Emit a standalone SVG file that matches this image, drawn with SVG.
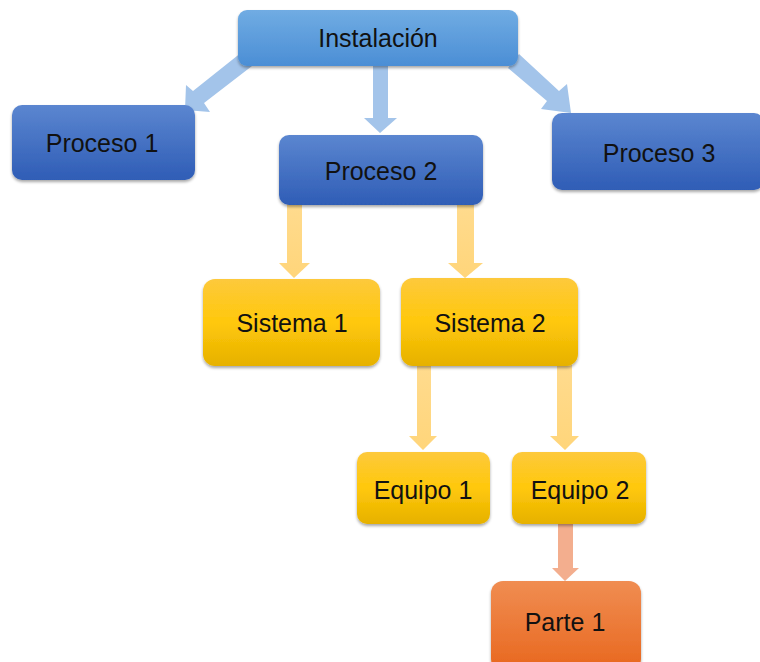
<svg xmlns="http://www.w3.org/2000/svg" width="760" height="662" viewBox="0 0 760 662">
  <defs>
    <linearGradient id="gTop" x1="0" y1="0" x2="0" y2="1">
      <stop offset="0" stop-color="#70ace3"/>
      <stop offset="1" stop-color="#4b8ed5"/>
    </linearGradient>
    <linearGradient id="gBlue" x1="0" y1="0" x2="0" y2="1">
      <stop offset="0" stop-color="#5b86d0"/>
      <stop offset="1" stop-color="#2f5db6"/>
    </linearGradient>
    <linearGradient id="gYellow" x1="0" y1="0" x2="0" y2="1">
      <stop offset="0" stop-color="#fdc93c"/>
      <stop offset="0.5" stop-color="#ffc80b"/>
      <stop offset="1" stop-color="#e6b100"/>
    </linearGradient>
    <linearGradient id="gOrange" x1="0" y1="0" x2="0" y2="1">
      <stop offset="0" stop-color="#f08d52"/>
      <stop offset="1" stop-color="#e8671e"/>
    </linearGradient>
    <linearGradient id="gArrowY" x1="0" y1="0" x2="0" y2="1">
      <stop offset="0" stop-color="#ffdb8e"/>
      <stop offset="1" stop-color="#ffd57a"/>
    </linearGradient>
    <filter id="shadow" x="-10%" y="-10%" width="120%" height="130%">
      <feGaussianBlur in="SourceAlpha" stdDeviation="1.5"/>
      <feOffset dx="0" dy="2" result="b"/>
      <feComponentTransfer><feFuncA type="linear" slope="0.35"/></feComponentTransfer>
      <feMerge><feMergeNode/><feMergeNode in="SourceGraphic"/></feMerge>
    </filter>
  </defs>
  <style>
    .lbl { font-family: "Liberation Sans", Arial, sans-serif; font-size: 25px; fill: #111; text-anchor: middle; dominant-baseline: central; }
    .box { filter: url(#shadow); }
    .arB { fill: #a3c4ea; }
    .arY { fill: url(#gArrowY); }
    .arO { fill: #f3ae8e; }
  </style>

  <rect width="760" height="662" fill="#ffffff"/>

  <!-- connectors: block arrows -->
  <g id="connectors">
    <!-- Instalación to Proceso 1 -->
    <polygon class="arB" points="242,52 252,66 204,103 210,112 185,110 186,85 193,91"/>
    <!-- Instalación to Proceso 2 -->
    <polygon class="arB" points="373,64 388,64 388,118 397,118 380,133 364,118 373,118"/>
    <!-- Instalación to Proceso 3 -->
    <polygon class="arB" points="519,54 508,68 547,101 541,109 571,113 567,84 559,91"/>
    <!-- Proceso 2 to Sistema 1 -->
    <polygon class="arY" points="287,204 302,204 302,263 310,263 294,278 279,263 287,263"/>
    <!-- Proceso 2 to Sistema 2 -->
    <polygon class="arY" points="457,204 474,204 474,263 483,263 465,278 448,263 457,263"/>
    <!-- Sistema 2 to Equipo 1 -->
    <polygon class="arY" points="417,365 431,365 431,436 437,436 423,450 409,436 417,436"/>
    <!-- Sistema 2 to Equipo 2 -->
    <polygon class="arY" points="557,365 572,365 572,436 579,436 565,450 550,436 557,436"/>
    <!-- Equipo 2 to Parte 1 -->
    <polygon class="arO" points="558,523 573,523 573,568 579,568 565,581 552,568 558,568"/>
  </g>

  <g id="instalacion">
    <rect class="box" x="238" y="10" width="280" height="56" rx="9" fill="url(#gTop)"/>
    <text class="lbl" x="378" y="38">Instalación</text>
  </g>
  <g id="proceso1">
    <rect class="box" x="12" y="105" width="183" height="75" rx="10" fill="url(#gBlue)"/>
    <text class="lbl" x="102" y="143">Proceso 1</text>
  </g>
  <g id="proceso2">
    <rect class="box" x="279" y="135" width="204" height="70" rx="10" fill="url(#gBlue)"/>
    <text class="lbl" x="381" y="171">Proceso 2</text>
  </g>
  <g id="proceso3">
    <rect class="box" x="552" y="113" width="212" height="77" rx="10" fill="url(#gBlue)"/>
    <text class="lbl" x="659" y="153">Proceso 3</text>
  </g>
  <g id="sistema1">
    <rect class="box" x="203" y="279" width="177" height="87" rx="12" fill="url(#gYellow)"/>
    <text class="lbl" x="292" y="323">Sistema 1</text>
  </g>
  <g id="sistema2">
    <rect class="box" x="401" y="278" width="177" height="88" rx="12" fill="url(#gYellow)"/>
    <text class="lbl" x="490" y="323">Sistema 2</text>
  </g>
  <g id="equipo1">
    <rect class="box" x="357" y="452" width="133" height="72" rx="10" fill="url(#gYellow)"/>
    <text class="lbl" x="423" y="490">Equipo 1</text>
  </g>
  <g id="equipo2">
    <rect class="box" x="512" y="452" width="134" height="72" rx="10" fill="url(#gYellow)"/>
    <text class="lbl" x="580" y="490">Equipo 2</text>
  </g>
  <g id="parte1">
    <rect class="box" x="491" y="581" width="150" height="90" rx="12" fill="url(#gOrange)"/>
    <text class="lbl" x="565" y="622">Parte 1</text>
  </g>
</svg>
